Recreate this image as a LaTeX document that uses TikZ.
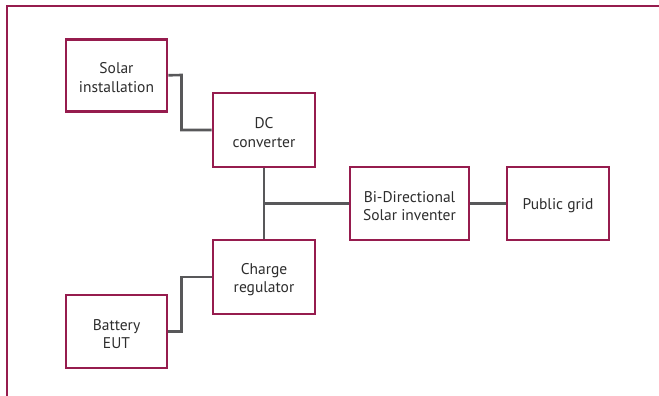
\documentclass[tikz,border=0pt]{standalone}
\usepackage{fontspec}
\setmainfont{PT Sans}
\definecolor{frameRed}{RGB}{150,28,78}
\definecolor{wireGray}{RGB}{88,88,90}
\definecolor{inkGray}{RGB}{45,45,45}
\begin{document}
\begin{tikzpicture}[x=1pt,y=-1pt,
  blockbox/.style={draw=frameRed,line width=2.7pt,fill=white,inner sep=0pt},
  blocktext/.style={align=center,text=inkGray,inner sep=0pt,yshift=-2.5pt,
    font=\fontsize{15.5}{18.5}\selectfont},
  wire/.style={draw=wireGray,line width=2.6pt}]
\useasboundingbox (0,0) rectangle (659,396);
% outer frame, open to the right and bottom
\draw[frameRed,line width=2.1pt] (7,400) -- (7,6) -- (665,6);
% blocks
\node[blockbox,minimum width=101pt,minimum height=72pt,
  label={[blocktext]center:Solar\\installation}] (solar) at (116.5,75.3) {};
\node[blockbox,minimum width=102pt,minimum height=74pt,
  label={[blocktext]center:DC\\converter}] (dc) at (264,130) {};
\node[blockbox,minimum width=102pt,minimum height=74pt,
  label={[blocktext]center:Charge\\regulator}] (charge) at (264,277) {};
\node[blockbox,minimum width=101pt,minimum height=73pt,
  label={[blocktext]center:Battery\\EUT}] (battery) at (116.5,331.5) {};
\node[blockbox,minimum width=119pt,minimum height=73pt,
  label={[blocktext]center:Bi-Directional\\Solar inventer}] (inv) at (409.5,203.5) {};
\node[blockbox,minimum width=102pt,minimum height=73pt,
  label={[blocktext]center:Public grid}] (grid) at (558,203.5) {};
% connectors
\coordinate (tee) at (264,203.5);
\draw[wire] (solar.east) -- (181.5,75) -- (181.5,130) -- (dc.west);
\draw[wire] (dc.south) -- (charge.north);
\draw[wire] (tee) -- (inv.west);
\draw[wire] (inv.east) -- (grid.west);
\draw[wire] (charge.west) -- (181.5,277) -- (181.5,331.5) -- (battery.east);
\end{tikzpicture}
\end{document}
